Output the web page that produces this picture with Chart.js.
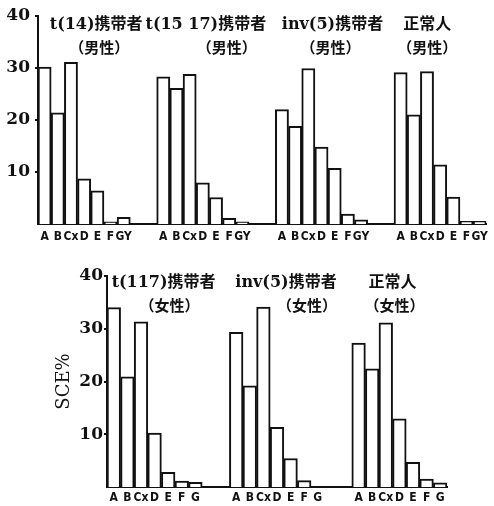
<!DOCTYPE html>
<html>
<head>
<meta charset="utf-8">
<script src="https://cdn.jsdelivr.net/npm/chart.js@4.4.0/dist/chart.umd.min.js"></script>
<style>
  body { margin: 0; background: #fff; }
  canvas { position: absolute; left: 0; }
  #top { top: 0; }
  #bottom { top: 255px; }
</style>
</head>
<body>
<canvas id="top" width="494" height="250"></canvas>
<canvas id="bottom" width="494" height="251"></canvas>
<script>
// chromosome groups under each set of bars
const maleCats = ['A', 'B', 'Cx', 'D', 'E', 'F', 'GY'];
const femaleCats = ['A', 'B', 'Cx', 'D', 'E', 'F', 'G'];
const yTicks = [10, 20, 30, 40];

// SCE % per chromosome group
const t14Male = [30.2, 21.4, 31.1, 8.7, 6.4, 0.4, 1.3];
const t1517Male = [28.3, 26.1, 28.8, 7.9, 5.1, 1.1, 0.4];
const inv5Male = [22.0, 18.8, 29.9, 14.8, 10.7, 1.9, 0.8];
const normalMale = [29.1, 21.0, 29.3, 11.4, 5.2, 0.5, 0.5];

const t117Female = [34.0, 20.9, 31.3, 10.2, 2.8, 1.1, 0.9];
const inv5Female = [29.3, 19.2, 34.1, 11.3, 5.4, 1.2, 0];
const normalFemale = [27.3, 22.4, 31.1, 12.9, 4.7, 1.5, 0.8];

const maleTitles = [
  ['t(14)携带者', '（男性）'],
  ['t(15 17)携带者', '（男性）'],
  ['inv(5)携带者', '（男性）'],
  ['正常人', '（男性）']
];
const femaleTitles = [
  ['t(117)携带者', '（女性）'],
  ['inv(5)携带者', '（女性）'],
  ['正常人', '（女性）']
];

const GAP = 2; // empty slots between groups
const INK = '#111';

// draws the two-line caption above each group of bars
const groupTitlePlugin = {
  id: 'groupTitles',
  afterDraw(chart, args, opts) {
    const ctx = chart.ctx;
    const x = chart.scales.x;
    const n = opts.size;
    ctx.save();
    ctx.fillStyle = INK;
    ctx.textAlign = 'center';
    ctx.textBaseline = 'middle';
    opts.titles.forEach((lines, g) => {
      const first = g * (n + GAP);
      const cx = (x.getPixelForValue(first) + x.getPixelForValue(first + n - 1)) / 2;
      lines.forEach((txt, i) => {
        ctx.font = opts.fonts[i];
        ctx.fillText(txt, cx + opts.shift[g][i], opts.lineY[i]);
      });
    });
    ctx.restore();
  }
};

const buildPanel = (id, groups, cats, titles, cfg) => {
  const labels = [];
  const values = [];
  groups.forEach((g, i) => {
    if (i > 0) {
      for (let k = 0; k < GAP; k++) { labels.push(''); values.push(null); }
    }
    cats.forEach((c, j) => { labels.push(c); values.push(g[j]); });
  });

  return new Chart(document.getElementById(id), {
    type: 'bar',
    data: {
      labels: labels,
      datasets: [{
        data: values,
        backgroundColor: '#fff',
        borderColor: INK,
        borderWidth: 2,
        borderSkipped: 'bottom',
        barPercentage: 1,
        categoryPercentage: 1
      }]
    },
    options: {
      responsive: false,
      animation: false,
      layout: { padding: cfg.padding },
      plugins: {
        legend: { display: false },
        tooltip: { enabled: false },
        groupTitles: {
          titles: titles,
          size: cats.length,
          shift: cfg.shift,
          lineY: cfg.lineY,
          fonts: ['bold 16px "DejaVu Serif", "Noto Sans CJK SC"', 'bold 15px "Noto Sans CJK SC"']
        }
      },
      scales: {
        x: {
          grid: { drawOnChartArea: false, drawTicks: false },
          border: { color: INK, width: 2 },
          ticks: {
            autoSkip: false,
            maxRotation: 0,
            minRotation: 0,
            padding: cfg.xPad,
            color: INK,
            font: { family: '"DejaVu Sans Condensed", "DejaVu Sans"', weight: 'bold', size: 12 }
          },
          afterFit: (s) => { s.height = cfg.xHeight; }
        },
        y: {
          min: 0,
          max: 40,
          afterBuildTicks: (s) => { s.ticks = yTicks.map(v => ({ value: v })); },
          grid: { drawOnChartArea: false, drawTicks: true, tickLength: 3, color: INK, lineWidth: 2 },
          border: { color: INK, width: 2 },
          ticks: {
            padding: cfg.yPad,
            color: INK,
            font: { family: '"DejaVu Serif"', weight: 'bold', size: 17 }
          },
          title: cfg.yTitle,
          afterFit: (s) => { s.width = cfg.yWidth; }
        }
      }
    },
    plugins: [groupTitlePlugin]
  });
};

buildPanel('top', [t14Male, t1517Male, inv5Male, normalMale], maleCats, maleTitles, {
  padding: { top: 16, right: 4, left: 0, bottom: 0 },
  yWidth: 38,
  xHeight: 26,
  xPad: 6,
  yPad: 5,
  yTitle: { display: false },
  lineY: [25, 47],
  shift: [[12, 15], [3, 24], [11, 9], [-13, -13]]
});

buildPanel('bottom', [t117Female, inv5Female, normalFemale], femaleCats, femaleTitles, {
  padding: { top: 21, right: 47, left: 50, bottom: 0 },
  yWidth: 57,
  xHeight: 19,
  xPad: 4,
  yPad: 1,
  yTitle: {
    display: true,
    text: 'SCE%',
    color: INK,
    padding: { top: 4, bottom: 0 },
    font: { family: '"DejaVu Serif"', size: 18 }
  },
  lineY: [28, 50],
  shift: [[9, 15], [9, 30], [-7, -5]]
});
</script>
</body>
</html>
